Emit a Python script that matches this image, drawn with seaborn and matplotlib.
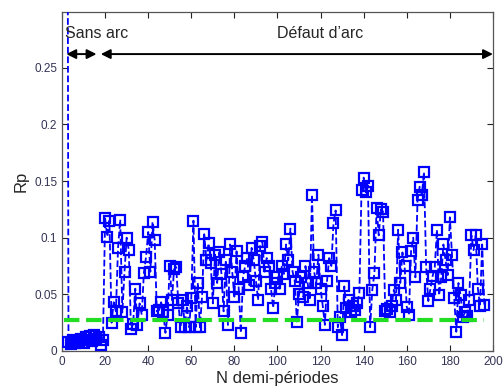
import matplotlib
matplotlib.use("Agg")
import matplotlib.pyplot as plt
import seaborn as sns
import numpy as np
import pandas as pd

# ---- data ----
n_start = 2
rp_values = [
    1.0,
    0.008, 0.006, 0.010, 0.007, 0.009, 0.008, 0.011, 0.007, 0.012, 0.010,
    0.013, 0.009, 0.014, 0.011, 0.012, 0.005, 0.010,
    0.117, 0.101, 0.115, 0.025, 0.043, 0.035, 0.091, 0.116, 0.034, 0.070,
    0.100, 0.089, 0.019, 0.024, 0.055, 0.023, 0.042, 0.032, 0.069, 0.083,
    0.105, 0.070, 0.114, 0.098, 0.035, 0.036, 0.043, 0.034, 0.016, 0.032,
    0.075, 0.045, 0.072, 0.074, 0.042, 0.021, 0.045, 0.021, 0.040, 0.021,
    0.047, 0.115, 0.021, 0.060, 0.021, 0.048, 0.103, 0.080, 0.095, 0.078,
    0.042, 0.085, 0.060, 0.087, 0.068, 0.035, 0.080, 0.023, 0.094, 0.070,
    0.048, 0.088, 0.055, 0.016, 0.065, 0.075, 0.082, 0.058, 0.091, 0.080,
    0.062, 0.045, 0.093, 0.096, 0.070, 0.082, 0.075, 0.055, 0.038, 0.060,
    0.065, 0.055, 0.075, 0.068, 0.094, 0.080, 0.108, 0.070, 0.062, 0.026,
    0.050, 0.065, 0.048, 0.075, 0.060, 0.045, 0.138, 0.070, 0.060, 0.085,
    0.055, 0.040, 0.023, 0.062, 0.082, 0.075, 0.113, 0.124, 0.021, 0.030,
    0.014, 0.057, 0.038, 0.045, 0.034, 0.040, 0.036, 0.042, 0.051, 0.142,
    0.153, 0.140, 0.146, 0.021, 0.054, 0.069, 0.126, 0.102, 0.125, 0.123,
    0.035, 0.037, 0.034, 0.040, 0.054, 0.045, 0.107, 0.060, 0.087, 0.075,
    0.039, 0.032, 0.088, 0.100, 0.065, 0.133, 0.145, 0.138, 0.158, 0.074,
    0.044, 0.055, 0.066, 0.074, 0.107, 0.049, 0.065, 0.094, 0.080, 0.067,
    0.118, 0.085, 0.047, 0.017, 0.060, 0.049, 0.030, 0.034, 0.031, 0.045,
    0.102, 0.089, 0.102, 0.055, 0.040, 0.094, 0.041,
]
n_values = list(range(n_start, n_start + len(rp_values)))
threshold_x = [1, 196]
threshold_y = [0.027, 0.027]
x_ticks = [0, 20, 40, 60, 80, 100, 120, 140, 160, 180, 200]
y_ticks = [0, 0.05, 0.1, 0.15, 0.2, 0.25]
y_ticklabels = ["0", "0.05", "0.1", "0.15", "0.2", "0.25"]

df = pd.DataFrame({"N": n_values, "Rp": rp_values})
df_thr = pd.DataFrame({"N": threshold_x, "Rp": threshold_y})

sns.set_style("ticks")
plt.rcParams["font.family"] = ["Liberation Sans", "DejaVu Sans"]

fig = plt.figure(figsize=(5.03, 3.92), dpi=100)
ax = fig.add_axes([0.1233, 0.1046, 0.8567, 0.8644])

sns.lineplot(data=df, x="N", y="Rp", ax=ax, color="#0000FF", linestyle="--",
             linewidth=1.3, marker="s", markersize=6.5, markerfacecolor="none",
             markeredgecolor="#0000FF", markeredgewidth=1.6, sort=False,
             estimator=None, zorder=3)
sns.lineplot(data=df_thr, x="N", y="Rp", ax=ax, color="#22DD22", linestyle="--",
             linewidth=3, dashes=(3.5, 2.5), estimator=None, zorder=4)

ax.set_xlim(0, 200)
ax.set_ylim(0, 0.299)
ax.set_xticks(x_ticks)
ax.set_xticklabels([str(t) for t in x_ticks])
ax.set_yticks(y_ticks)
ax.set_yticklabels(y_ticklabels)
ax.tick_params(direction="in", top=True, right=True, labelsize=8.5,
               length=4, width=0.8, colors="#222222", labelcolor="#333355")
for s in ax.spines.values():
    s.set_color("#555555")
    s.set_linewidth(0.9)

ax.set_xlabel("N demi-périodes", fontsize=12, labelpad=2)
ax.set_ylabel("Rp", fontsize=12, labelpad=4)

# annotations
arrow_y = 0.262
ax.annotate("", xy=(2, arrow_y), xytext=(16, arrow_y),
            arrowprops=dict(arrowstyle="<|-|>", color="black", lw=1.4,
                            mutation_scale=14, shrinkA=0, shrinkB=0))
ax.annotate("", xy=(18, arrow_y), xytext=(200, arrow_y),
            arrowprops=dict(arrowstyle="<|-|>", color="black", lw=1.4,
                            mutation_scale=14, shrinkA=0, shrinkB=0))
ax.text(1.5, 0.280, "Sans arc", fontsize=11.5, va="center", ha="left")
ax.text(100, 0.280, "Défaut d\u2019arc", fontsize=11.5, va="center", ha="left")

fig.savefig("out.png", dpi=100)
